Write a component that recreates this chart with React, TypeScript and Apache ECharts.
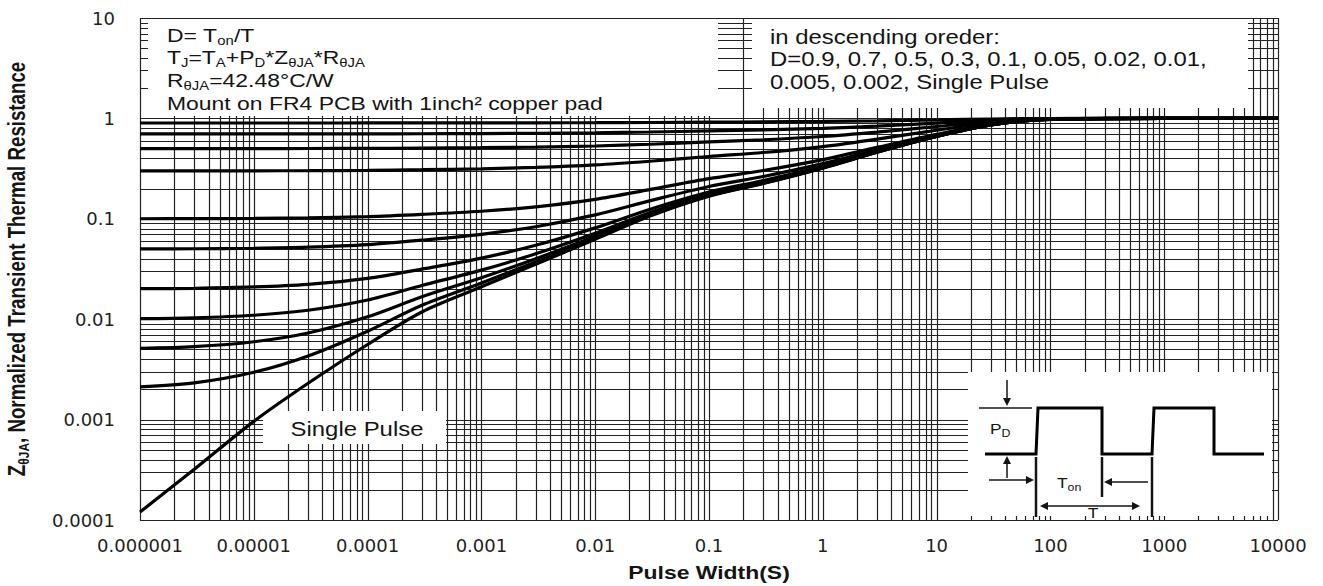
import React, { useEffect, useRef } from 'react';
import * as echarts from 'echarts';

// Pulse widths (s) at which every curve is sampled
const pulseWidths = [1e-6, 3e-6, 1e-5, 3e-5, 1e-4, 3e-4, 1e-3, 3e-3, 1e-2, 3e-2, 0.1, 0.3, 1, 3, 10, 30, 100, 1000, 10000];

// Normalized transient thermal resistance for each duty cycle
const zD090 = [0.9, 0.9, 0.9001, 0.9002, 0.9006, 0.9012, 0.9021, 0.9035, 0.9063, 0.9106, 0.9168, 0.9225, 0.932, 0.946, 0.966, 0.986, 0.998, 1, 1];
const zD070 = [0.7, 0.7001, 0.7003, 0.7007, 0.7017, 0.7035, 0.7063, 0.7106, 0.7188, 0.7318, 0.7504, 0.7675, 0.796, 0.838, 0.898, 0.958, 0.994, 1, 1];
const zD050 = [0.5001, 0.5002, 0.5005, 0.5012, 0.5028, 0.5059, 0.5105, 0.5176, 0.5313, 0.553, 0.584, 0.6125, 0.66, 0.73, 0.83, 0.93, 0.99, 1, 1];
const zD030 = [0.3001, 0.3002, 0.3007, 0.3016, 0.3039, 0.3083, 0.3147, 0.3246, 0.3438, 0.3742, 0.4176, 0.4575, 0.524, 0.622, 0.762, 0.902, 0.986, 1, 1];
const zD010 = [0.1001, 0.1003, 0.1009, 0.1021, 0.105, 0.1106, 0.1189, 0.1317, 0.1563, 0.1954, 0.2512, 0.3025, 0.388, 0.514, 0.694, 0.874, 0.982, 1, 1];
const zD005 = [0.0501, 0.0503, 0.0509, 0.0522, 0.0553, 0.0612, 0.07, 0.0834, 0.1094, 0.1507, 0.2096, 0.2638, 0.354, 0.487, 0.677, 0.867, 0.981, 1, 1];
const zD002 = [0.02012, 0.02031, 0.02094, 0.02225, 0.02549, 0.03156, 0.04058, 0.0545, 0.08125, 0.1239, 0.1846, 0.2405, 0.3336, 0.4708, 0.6668, 0.8628, 0.9804, 1, 1];
const zD001 = [0.01012, 0.01032, 0.01095, 0.01228, 0.01554, 0.02168, 0.03079, 0.04485, 0.07188, 0.1149, 0.1763, 0.2328, 0.3268, 0.4654, 0.6634, 0.8614, 0.9802, 1, 1];
const zD0005 = [0.00512, 0.00532, 0.00596, 0.00729, 0.01057, 0.01674, 0.0259, 0.04002, 0.06719, 0.1105, 0.1722, 0.2289, 0.3234, 0.4627, 0.6617, 0.8607, 0.9801, 1, 1];
const zD0002 = [0.00212, 0.00232, 0.00296, 0.0043, 0.00759, 0.01378, 0.02296, 0.03713, 0.06437, 0.1078, 0.1697, 0.2266, 0.3214, 0.4611, 0.6607, 0.8603, 0.98, 1, 1];
const zSingle = [0.00012, 0.00032, 0.00096, 0.0023, 0.0056, 0.0118, 0.021, 0.0352, 0.0625, 0.106, 0.168, 0.225, 0.32, 0.46, 0.66, 0.86, 0.98, 1, 1];

const curveNames = ['D=0.9', 'D=0.7', 'D=0.5', 'D=0.3', 'D=0.1', 'D=0.05', 'D=0.02', 'D=0.01', 'D=0.005', 'D=0.002', 'Single Pulse'];
const curveValues = [zD090, zD070, zD050, zD030, zD010, zD005, zD002, zD001, zD0005, zD0002, zSingle];

// Tick labels, one per decade
const xTickLabels = ['0.000001', '0.00001', '0.0001', '0.001', '0.01', '0.1', '1', '10', '100', '1000', '10000'];
const yTickLabels = ['0.0001', '0.001', '0.01', '0.1', '1', '10'];

const X_MIN = 1e-6;
const X_MAX = 1e4;
const Y_MIN = 1e-4;
const Y_MAX = 10;
const X_EXP_MIN = -6;
const X_EXP_MAX = 4;
const Y_EXP_MIN = -4;
const Y_EXP_MAX = 1;

const INK = '#141414';
const SANS = '"Liberation Sans", Arial, sans-serif';
const LABEL_FONT = '"DejaVu Sans", sans-serif';
const STRETCH = 1.24;

// Full log grid: 1..9 in every decade on both axes, plus the closing border lines
const gridLineData: number[][] = [];
for (let e = X_EXP_MIN; e < X_EXP_MAX; e++) {
  for (let m = 1; m <= 9; m++) gridLineData.push([m * Math.pow(10, e), 1, 0]);
}
gridLineData.push([X_MAX, 1, 0]);
for (let e = Y_EXP_MIN; e < Y_EXP_MAX; e++) {
  for (let m = 1; m <= 9; m++) gridLineData.push([1, m * Math.pow(10, e), 1]);
}
gridLineData.push([1, Y_MAX, 1]);

// Rich styles: "n" for normal text, "s" for subscripts pushed below the baseline
function rich(fs: number, sub: number, bold = false) {
  const w = bold ? 'bold' : 'normal';
  const lh = Math.round(fs * 1.3);
  const drop = Math.min(lh / 2 + 0.3 * fs - sub / 2, lh - sub);
  return {
    n: { fontSize: fs, fontFamily: SANS, fontWeight: w, lineHeight: lh, verticalAlign: 'middle', fill: INK },
    s: {
      fontSize: sub,
      fontFamily: SANS,
      fontWeight: w,
      lineHeight: sub,
      verticalAlign: 'top',
      padding: [drop, 0, 0, 0],
      fill: INK,
    },
  };
}

function richText(x: number, y: number, text: string, fs: number, sub: number, opts: any = {}) {
  return {
    type: 'text',
    x,
    y,
    z: 6,
    scaleX: opts.scaleX ?? STRETCH,
    scaleY: opts.scaleY ?? 1,
    rotation: opts.rotation ?? 0,
    silent: true,
    style: {
      text,
      rich: rich(fs, sub, opts.bold),
      fill: INK,
      fontFamily: SANS,
      fontSize: fs,
      fontWeight: opts.bold ? 'bold' : 'normal',
      align: opts.align ?? 'left',
      verticalAlign: 'middle',
    },
  };
}

function whiteBox(x: number, y: number, w: number, h: number) {
  return { type: 'rect', z: 5, silent: true, shape: { x, y, width: w, height: h }, style: { fill: '#ffffff' } };
}

function seg(x1: number, y1: number, x2: number, y2: number, lw: number) {
  return { type: 'line', z: 6, silent: true, shape: { x1, y1, x2, y2 }, style: { stroke: INK, lineWidth: lw } };
}

function head(points: number[][]) {
  return { type: 'polygon', z: 6, silent: true, shape: { points }, style: { fill: INK } };
}

const graphicElements: any[] = [
  // annotation panels
  whiteBox(148, 19, 570, 97),
  whiteBox(752, 19, 496, 89),
  whiteBox(263, 411, 183, 33),
  whiteBox(968, 372, 304, 144),

  // conditions
  richText(167, 35, '{n|D= T}{s|on}{n|/T}', 18.5, 12),
  richText(167, 57.5, '{n|T}{s|J}{n|=T}{s|A}{n|+P}{s|D}{n|*Z}{s|θJA}{n|*R}{s|θJA}', 18.5, 12),
  richText(167, 80.3, '{n|R}{s|θJA}{n|=42.48°C/W}', 18.5, 12),
  richText(167, 103, '{n|Mount on FR4 PCB with 1inch² copper pad}', 18.5, 12),

  // curve order
  richText(770, 37, '{n|in descending oreder:}', 19.3, 12),
  richText(770, 59.5, '{n|D=0.9, 0.7, 0.5, 0.3, 0.1, 0.05, 0.02, 0.01,}', 19.3, 12),
  richText(770, 82, '{n|0.005, 0.002, Single Pulse}', 19.3, 12),

  // single pulse tag
  richText(357, 429, '{n|Single Pulse}', 19.3, 12, { align: 'center' }),

  // pulse train sketch
  {
    type: 'polyline',
    z: 6,
    silent: true,
    shape: {
      points: [
        [985, 454], [1036, 454], [1038, 408], [1102, 408], [1102, 454], [1152, 454],
        [1154, 408], [1214, 408], [1214, 454], [1264, 454],
      ],
    },
    style: { stroke: '#000', lineWidth: 3, fill: null },
  },
  seg(979, 408, 1032, 408, 1.5),
  seg(1007, 380, 1007, 400, 1.5),
  head([[1003, 398], [1011, 398], [1007, 406]]),
  seg(1007, 478, 1007, 463, 1.5),
  head([[1003, 464], [1011, 464], [1007, 456]]),
  seg(1036, 457, 1036, 517, 2.5),
  seg(1102, 457, 1102, 497, 2.5),
  seg(1152, 457, 1152, 517, 2.5),
  seg(989, 480, 1028, 480, 1.5),
  head([[1026, 476], [1026, 484], [1034, 480]]),
  seg(1148, 482, 1110, 482, 1.5),
  head([[1112, 478], [1112, 486], [1104, 482]]),
  seg(1046, 506, 1134, 506, 1.5),
  head([[1048, 502], [1048, 510], [1040, 506]]),
  head([[1132, 502], [1132, 510], [1140, 506]]),
  richText(990, 429, '{n|P}{s|D}', 14, 10),
  richText(1057, 483, '{n|T}{s|on}', 14, 10),
  richText(1093, 513, '{n|T}', 14, 10, { align: 'center' }),

  // axis titles
  richText(709, 572, '{n|Pulse Width(S)}', 18.5, 12, { bold: true, align: 'center' }),
  richText(17, 269, '{n|Z}{s|θJA}{n|, Normalized Transient Thermal Resistance}', 18.7, 12, {
    bold: true,
    align: 'center',
    rotation: Math.PI / 2,
    scaleX: 1,
    scaleY: STRETCH,
  }),
];

const hiddenAxisParts = {
  axisLine: { show: false },
  axisTick: { show: false },
  axisLabel: { show: false },
  splitLine: { show: false },
};

const option: any = {
  animation: false,
  backgroundColor: '#ffffff',
  textStyle: { fontFamily: SANS, color: INK },
  grid: { left: 140, top: 18, width: 1138, height: 502, containLabel: false },
  xAxis: [
    { type: 'log', logBase: 10, min: X_MIN, max: X_MAX, position: 'top', ...hiddenAxisParts },
    {
      type: 'value',
      min: X_EXP_MIN,
      max: X_EXP_MAX,
      interval: 1,
      position: 'bottom',
      axisLine: { show: false },
      axisTick: { show: false },
      splitLine: { show: false },
      axisLabel: {
        margin: 16,
        fontFamily: LABEL_FONT,
        fontSize: 18,
        color: '#1e1e1e',
        formatter: (v: number) => xTickLabels[Math.round(v) - X_EXP_MIN] ?? '',
      },
    },
  ],
  yAxis: [
    { type: 'log', logBase: 10, min: Y_MIN, max: Y_MAX, position: 'right', ...hiddenAxisParts },
    {
      type: 'value',
      min: Y_EXP_MIN,
      max: Y_EXP_MAX,
      interval: 1,
      position: 'left',
      axisLine: { show: false },
      axisTick: { show: false },
      splitLine: { show: false },
      axisLabel: {
        margin: 25,
        fontFamily: LABEL_FONT,
        fontSize: 18,
        color: '#1e1e1e',
        formatter: (v: number) => yTickLabels[Math.round(v) - Y_EXP_MIN] ?? '',
      },
    },
  ],
  series: [
    {
      type: 'custom',
      name: 'grid',
      xAxisIndex: 0,
      yAxisIndex: 0,
      silent: true,
      clip: false,
      z: 1,
      encode: { x: 0, y: 1 },
      data: gridLineData,
      renderItem: (_params: any, api: any) => {
        const vertical = api.value(2) === 0;
        const p1 = vertical ? api.coord([api.value(0), Y_MIN]) : api.coord([X_MIN, api.value(1)]);
        const p2 = vertical ? api.coord([api.value(0), Y_MAX]) : api.coord([X_MAX, api.value(1)]);
        const snap = (v: number) => Math.round(v) + 0.5;
        return {
          type: 'line',
          shape: vertical
            ? { x1: snap(p1[0]), y1: p1[1], x2: snap(p2[0]), y2: p2[1] }
            : { x1: p1[0], y1: snap(p1[1]), x2: p2[0], y2: snap(p2[1]) },
          style: { stroke: '#222', lineWidth: 1.2 },
        };
      },
    },
    ...curveValues.map((vals, i) => ({
      type: 'line',
      name: curveNames[i],
      xAxisIndex: 0,
      yAxisIndex: 0,
      z: 10,
      silent: true,
      showSymbol: false,
      symbol: 'none',
      smooth: 0.3,
      lineStyle: { color: '#000', width: 3.2 },
      data: pulseWidths.map((t, j) => [t, vals[j]]),
    })),
  ],
  graphic: { elements: graphicElements },
};

export default function App() {
  const ref = useRef<HTMLDivElement>(null);
  useEffect(() => {
    if (!ref.current) return;
    const chart = echarts.init(ref.current, undefined, { renderer: 'svg' });
    chart.setOption(option);
    return () => chart.dispose();
  }, []);
  return (
    <div
      ref={ref}
      style={{ position: 'fixed', left: 0, top: 0, width: 1323, height: 586, background: '#fff' }}
    />
  );
}
